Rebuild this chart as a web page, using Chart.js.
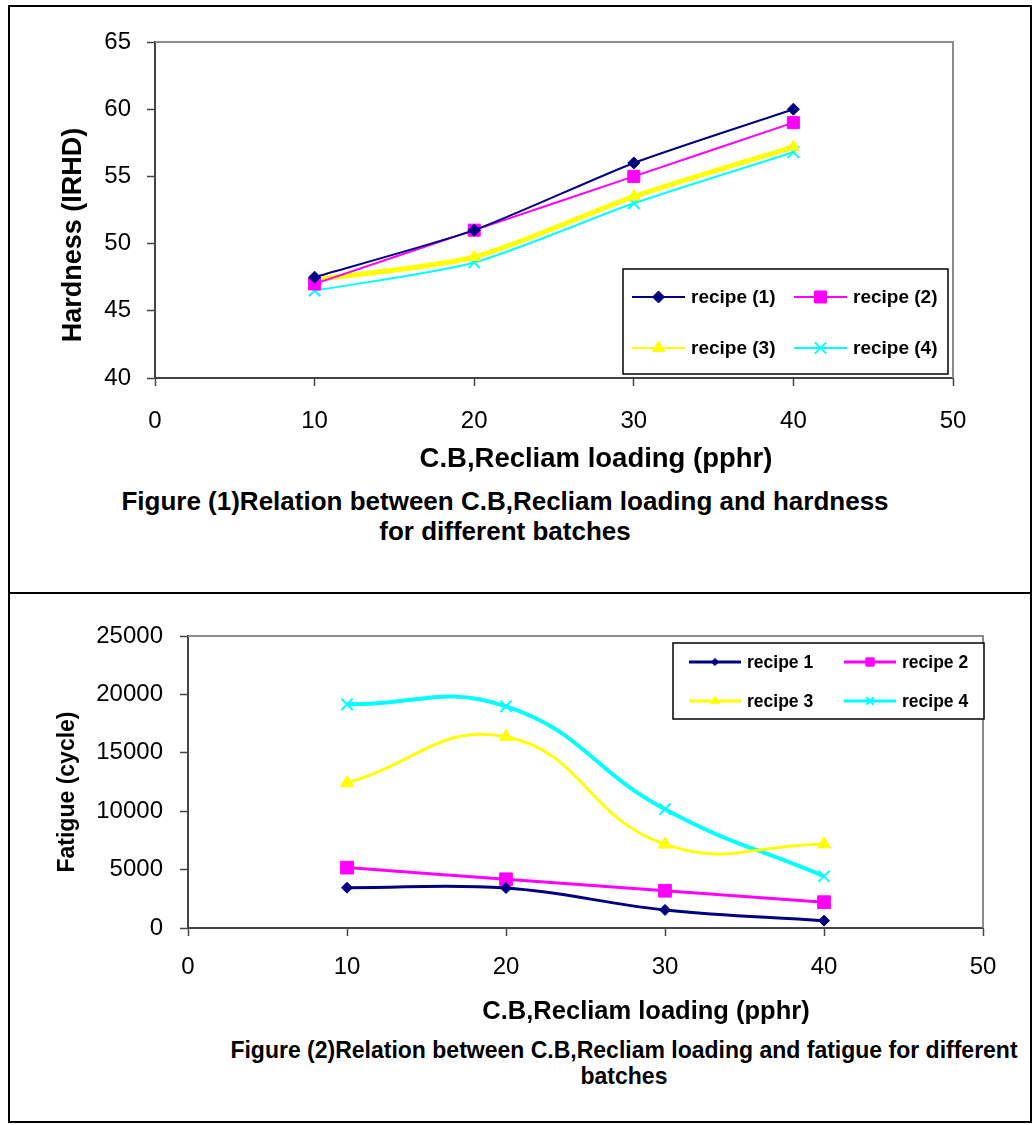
<!DOCTYPE html>
<html>
<head>
<meta charset="utf-8">
<script src="https://cdn.jsdelivr.net/npm/chart.js@4.4.0/dist/chart.umd.min.js"></script>
<style>
  body { margin: 0; background: #fff; }
  #page { position: relative; width: 1034px; height: 1125px; overflow: hidden; font-family: "Liberation Sans", Arial, sans-serif; }
  #frame { position: absolute; left: 8px; top: 5px; width: 1020px; height: 1114px; border: 2px solid #000; }
  #sep { position: absolute; left: 8px; top: 592px; width: 1024px; height: 2px; background: #000; }
  canvas { position: absolute; left: 0; }
  #c1 { top: 0; }
  #c2 { top: 593px; }
  .txt { position: absolute; font-weight: bold; text-align: center; color: #000; white-space: nowrap; }
  #cap1 { left: 105px; width: 800px; top: 486px; font-size: 26px; line-height: 30px; }
  #cap2 { left: 204px; width: 840px; top: 1037px; font-size: 23px; line-height: 26px; }
  #xt1 { left: 296px; width: 600px; top: 442px; font-size: 27.5px; line-height: 31px; }
  #xt2 { left: 346px; width: 600px; top: 996px; font-size: 25.5px; line-height: 29px; }
  #yt1 { left: -78px; width: 300px; top: 220px; font-size: 27px; line-height: 30px; transform: rotate(-90deg); }
  #yt2 { left: -84px; width: 300px; top: 779px; font-size: 23px; line-height: 26px; transform: rotate(-90deg); }
</style>
</head>
<body>
<div id="page">
  <div id="frame"></div>
  <div id="sep"></div>
  <canvas id="c1" width="1034" height="480"></canvas>
  <canvas id="c2" width="1034" height="440"></canvas>
  <div class="txt" id="yt1">Hardness (IRHD)</div>
  <div class="txt" id="xt1">C.B,Recliam loading (pphr)</div>
  <div class="txt" id="cap1">Figure (1)Relation between C.B,Recliam loading and hardness<br>for different batches</div>
  <div class="txt" id="yt2">Fatigue (cycle)</div>
  <div class="txt" id="xt2">C.B,Recliam loading (pphr)</div>
  <div class="txt" id="cap2">Figure (2)Relation between C.B,Recliam loading and fatigue for different<br>batches</div>
</div>
<script>
// shared x values (pphr)
const loading = [10, 20, 30, 40];
const xTicks = [0, 10, 20, 30, 40, 50];

// Figure 1 - hardness (IRHD)
const hardnessLabels = ['recipe (1)', 'recipe (2)', 'recipe (3)', 'recipe (4)'];
const hardness1 = [47.5, 51, 56, 60];
const hardness2 = [47, 51, 55, 59];
const hardness3 = [47.3, 49, 53.5, 57.2];
const hardness4 = [46.5, 48.6, 53, 56.8];
const hardnessTicks = [40, 45, 50, 55, 60, 65];

// Figure 2 - fatigue (cycle)
const fatigueLabels = ['recipe 1', 'recipe 2', 'recipe 3', 'recipe 4'];
const fatigue1 = [3450, 3420, 1550, 630];
const fatigue2 = [5170, 4170, 3190, 2210];
const fatigue3 = [12410, 16380, 7160, 7180];
const fatigue4 = [19150, 18980, 10170, 4430];
const fatigueTicks = [0, 5000, 10000, 15000, 20000, 25000];

const NAVY = '#000080', MAGENTA = '#ff00ff', YELLOW = '#ffff00', CYAN = '#00ffff';
const FONT = '"Liberation Sans", Arial, sans-serif';

Chart.defaults.font.family = FONT;
Chart.defaults.color = '#000';

function toPoints(vals) {
  return vals.map((v, i) => ({ x: loading[i], y: v }));
}

// plot area top + right border (grey, like Excel)
const plotFrame = {
  id: 'plotFrame',
  afterDraw(chart) {
    const a = chart.chartArea, ctx = chart.ctx;
    ctx.save();
    ctx.strokeStyle = '#8c8c8c';
    ctx.lineWidth = 2;
    ctx.beginPath();
    ctx.moveTo(a.left, a.top);
    ctx.lineTo(a.right, a.top);
    ctx.lineTo(a.right, a.bottom);
    ctx.stroke();
    ctx.restore();
  }
};

// boxed legend drawn inside the plot, two columns
const boxLegend = {
  id: 'boxLegend',
  afterDraw(chart, args, opts) {
    const ctx = chart.ctx;
    ctx.save();
    ctx.fillStyle = '#fff';
    ctx.fillRect(opts.box[0], opts.box[1], opts.box[2], opts.box[3]);
    ctx.strokeStyle = '#000';
    ctx.lineWidth = 1.5;
    ctx.strokeRect(opts.box[0], opts.box[1], opts.box[2], opts.box[3]);
    chart.data.datasets.forEach((ds, i) => {
      const col = i % 2, row = Math.floor(i / 2);
      const x0 = opts.cols[col], y = opts.rows[row];
      ctx.strokeStyle = ds.borderColor;
      ctx.lineWidth = opts.lineWidth;
      ctx.beginPath();
      ctx.moveTo(x0, y);
      ctx.lineTo(x0 + opts.lineLen, y);
      ctx.stroke();
      ctx.fillStyle = ds.pointBackgroundColor;
      ctx.strokeStyle = ds.pointBorderColor;
      ctx.lineWidth = ds.pointStyle === 'crossRot' ? 2 : 1;
      Chart.helpers.drawPoint(ctx, {
        pointStyle: ds.pointStyle,
        radius: ds.pointRadius * opts.markerScale,
        rotation: 0,
        borderWidth: ds.pointStyle === 'crossRot' ? 2 : 1
      }, x0 + opts.lineLen / 2, y);
      ctx.fillStyle = '#000';
      ctx.font = opts.font;
      ctx.textBaseline = 'middle';
      ctx.fillText(ds.label, x0 + opts.lineLen + 6, y + 1);
    });
    ctx.restore();
  }
};

function series(label, vals, color, style, width, radius, tension) {
  return {
    label: label,
    data: toPoints(vals),
    borderColor: color,
    borderWidth: width,
    pointStyle: style,
    pointRadius: radius,
    pointBackgroundColor: color,
    pointBorderColor: color,
    pointBorderWidth: style === 'crossRot' ? 2 : 1,
    tension: tension,
    fill: false
  };
}

function axisCommon(extra) {
  return Object.assign({
    type: 'linear',
    grid: { drawOnChartArea: false, drawTicks: true, tickLength: 8, color: '#444', tickWidth: 1.5 },
    border: { display: true, color: '#444', width: 2 }
  }, extra);
}

// ---- Figure 1 ----
new Chart(document.getElementById('c1').getContext('2d'), {
  type: 'line',
  data: {
    datasets: [
      series(hardnessLabels[0], hardness1, NAVY, 'rectRot', 2, 6, 0.2),
      series(hardnessLabels[1], hardness2, MAGENTA, 'rect', 2, 8.5, 0.2),
      series(hardnessLabels[2], hardness3, YELLOW, 'triangle', 5, 7, 0.25),
      series(hardnessLabels[3], hardness4, CYAN, 'crossRot', 2, 8, 0.25)
    ]
  },
  options: {
    responsive: false,
    animation: false,
    layout: { padding: { left: 0, right: 81, top: 42, bottom: 7 } },
    plugins: {
      legend: { display: false },
      tooltip: { enabled: false },
      boxLegend: {
        box: [623, 269, 325, 105],
        cols: [632, 794],
        rows: [297, 348],
        lineLen: 53,
        lineWidth: 2,
        markerScale: 1,
        font: 'bold 19px ' + FONT
      }
    },
    scales: {
      x: axisCommon({
        min: 0, max: 50,
        afterBuildTicks: s => { s.ticks = xTicks.map(v => ({ value: v })); },
        afterFit: s => { s.height = 95; },
        ticks: { font: { size: 24 }, padding: 21, maxRotation: 0 }
      }),
      y: axisCommon({
        min: 40, max: 65,
        afterBuildTicks: s => { s.ticks = hardnessTicks.map(v => ({ value: v })); },
        afterFit: s => { s.width = 155; },
        ticks: { font: { size: 24 }, padding: 16 }
      })
    }
  },
  plugins: [plotFrame, boxLegend]
});

// ---- Figure 2 ----
new Chart(document.getElementById('c2').getContext('2d'), {
  type: 'line',
  data: {
    datasets: [
      series(fatigueLabels[0], fatigue1, NAVY, 'rectRot', 3, 5.5, 0.4),
      series(fatigueLabels[1], fatigue2, MAGENTA, 'rect', 3, 9, 0.4),
      series(fatigueLabels[2], fatigue3, YELLOW, 'triangle', 3, 7.5, 0.45),
      series(fatigueLabels[3], fatigue4, CYAN, 'crossRot', 4, 8, 0.45)
    ]
  },
  options: {
    responsive: false,
    animation: false,
    layout: { padding: { left: 0, right: 51, top: 43, bottom: 10 } },
    plugins: {
      legend: { display: false },
      tooltip: { enabled: false },
      boxLegend: {
        box: [673, 643 - 593, 311, 76],
        cols: [689, 844],
        rows: [662 - 593, 701 - 593],
        lineLen: 52,
        lineWidth: 3,
        markerScale: 0.65,
        font: 'bold 17.5px ' + FONT
      }
    },
    scales: {
      x: axisCommon({
        min: 0, max: 50,
        afterBuildTicks: s => { s.ticks = xTicks.map(v => ({ value: v })); },
        afterFit: s => { s.height = 95; },
        ticks: { font: { size: 24 }, padding: 17, maxRotation: 0 }
      }),
      y: axisCommon({
        min: 0, max: 25000,
        afterBuildTicks: s => { s.ticks = fatigueTicks.map(v => ({ value: v })); },
        afterFit: s => { s.width = 188; },
        ticks: { font: { size: 24 }, padding: 17, callback: v => String(v) }
      })
    }
  },
  plugins: [plotFrame, boxLegend]
});
</script>
</body>
</html>
